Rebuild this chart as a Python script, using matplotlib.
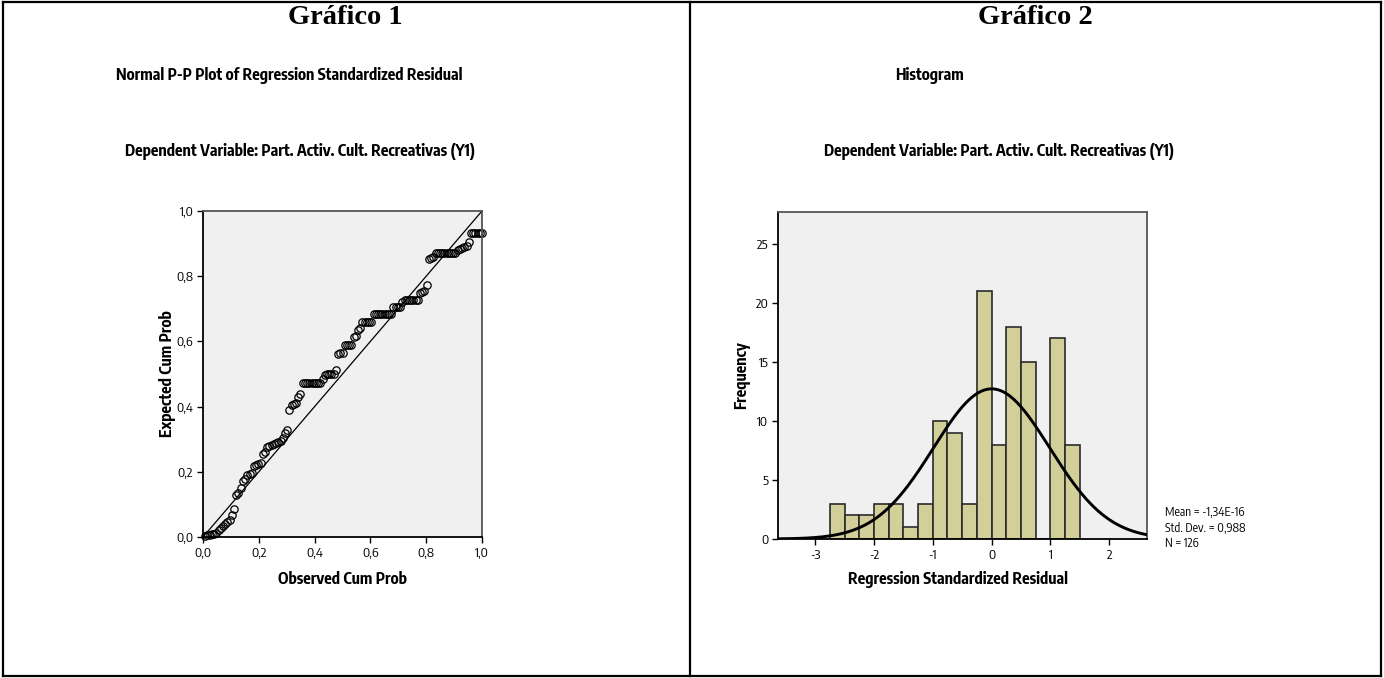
import numpy as np
import matplotlib
matplotlib.use("Agg")
import matplotlib.pyplot as plt
from matplotlib import font_manager
from matplotlib.font_manager import FontProperties
from matplotlib.lines import Line2D
from matplotlib.textpath import TextPath
from matplotlib.ticker import FuncFormatter

W, H = 1384, 678
DPI = 100

# P-P plot: expected cumulative probability of each sorted residual (rank order)
expected_cum_prob = [
    0.003, 0.005, 0.006, 0.008, 0.010, 0.013,
    0.020, 0.027, 0.034, 0.040, 0.045, 0.052, 0.068, 0.085,
    0.128, 0.136, 0.150, 0.172, 0.178, 0.190, 0.192, 0.196, 0.218, 0.222,
    0.224, 0.226, 0.255, 0.262, 0.275, 0.278, 0.281, 0.285, 0.288, 0.290,
    0.296, 0.305, 0.318, 0.328,
    0.389, 0.404, 0.407, 0.410, 0.428, 0.440,
    0.471, 0.471, 0.471, 0.471, 0.471, 0.471, 0.471, 0.471, 0.471,
    0.484, 0.497, 0.500, 0.500, 0.500, 0.500, 0.512,
    0.561, 0.563, 0.565, 0.588, 0.589, 0.589, 0.590, 0.613, 0.616, 0.636,
    0.640, 0.658, 0.660, 0.660, 0.660, 0.660,
    0.683, 0.683, 0.683, 0.683, 0.683, 0.683, 0.683, 0.683, 0.683,
    0.705, 0.706, 0.706, 0.707, 0.720,
    0.728, 0.728, 0.728, 0.728, 0.728, 0.728, 0.728,
    0.750, 0.752, 0.755, 0.773,
    0.852, 0.857, 0.860,
    0.870, 0.870, 0.870, 0.870, 0.870, 0.870, 0.870, 0.870, 0.870, 0.870,
    0.880, 0.884, 0.886, 0.890, 0.894, 0.906,
    0.931, 0.931, 0.931, 0.931, 0.931, 0.931,
]
n_obs = 126

# histogram of the standardized residuals
bin_edges = [-2.75, -2.5, -2.25, -2.0, -1.75, -1.5, -1.25, -1.0, -0.75,
             -0.5, -0.25, 0.0, 0.25, 0.5, 0.75, 1.0, 1.25, 1.5]
bin_counts = [3, 2, 2, 3, 3, 1, 3, 10, 9, 3, 21, 8, 18, 15, 0, 17, 8]
resid_mean = -1.34e-16
resid_sd = 0.988

DEP_TITLE = "Dependent Variable: Part. Activ. Cult. Recreativas (Y1)"
SERIF = ["Liberation Serif", "DejaVu Serif"]
PANEL_BG = "#f0f0f0"
BAR_FC = "#d3cf98"
plt.rcParams["axes.unicode_minus"] = False


def _weight(f):
    w = f.weight
    if isinstance(w, str):
        return 700 if "bold" in w else 400
    return int(w)


def _path_size(text, fp):
    ext = TextPath((0, 0), text, prop=fp).get_extents()
    return ext.width, ext.height


def pick_faces():
    """Pick a bold sans face whose width/cap-height is close to a narrow grotesque."""
    best = None
    for f in font_manager.fontManager.ttflist:
        n = f.name
        if f.style != "normal" or _weight(f) != 700:
            continue
        if any(k in n for k in ("Mono", "Serif", "CJK", "Math", "Emoji", "Display")):
            continue
        if not any(k in n for k in ("Sans", "Roboto", "Lato", "Inter", "Narrow", "Condensed")):
            continue
        fp = FontProperties(fname=f.fname, size=10)
        try:
            w, _ = _path_size(DEP_TITLE, fp)
            _, cap = _path_size("H", fp)
        except Exception:
            continue
        d = abs(w / cap - 30)
        if best is None or d < best[0]:
            best = (d, f)
    bold = best[1]
    regular = bold
    for f in font_manager.fontManager.ttflist:
        if (f.name == bold.name and f.stretch == bold.stretch
                and f.style == "normal" and _weight(f) == 400):
            regular = f
            break
    return bold.fname, regular.fname


BOLD_PATH, REG_PATH = pick_faces()


def fit_size(text, path, width_px):
    w, _ = _path_size(text, FontProperties(fname=path, size=10))
    return 10 * width_px / (w * DPI / 72)


LABEL_PT = fit_size(DEP_TITLE, BOLD_PATH, 350)
SMALL_PT = fit_size("Mean = -1,34E-16", REG_PATH, 78)


def bold(size=None):
    return FontProperties(fname=BOLD_PATH, size=size or LABEL_PT)


def small(scale=1.0):
    return FontProperties(fname=REG_PATH, size=SMALL_PT * scale)


def fx(px):
    return px / W


def fy(py):
    return 1 - py / H


def comma(v, pos):
    return f"{v:.1f}".replace(".", ",")


def style_axes(ax):
    ax.set_facecolor(PANEL_BG)
    for side in ("left", "bottom"):
        ax.spines[side].set_color("black")
        ax.spines[side].set_linewidth(1.3)
    for side in ("top", "right"):
        ax.spines[side].set_color("#555555")
        ax.spines[side].set_linewidth(1.3)
    ax.tick_params(direction="out", length=4, width=1, pad=3, colors="black")
    for lab in ax.get_xticklabels() + ax.get_yticklabels():
        lab.set_fontproperties(small(1.1))


fig = plt.figure(figsize=(W / DPI, H / DPI), dpi=DPI)
fig.patch.set_facecolor("white")

# table frame around the two charts
frame = dict(color="black", lw=1.6, transform=fig.transFigure)
fig.add_artist(Line2D([fx(3), fx(1381)], [fy(2), fy(2)], **frame))
fig.add_artist(Line2D([fx(3), fx(1381)], [fy(676), fy(676)], **frame))
fig.add_artist(Line2D([fx(3), fx(3)], [fy(2), fy(676)], **frame))
fig.add_artist(Line2D([fx(1381), fx(1381)], [fy(2), fy(676)], **frame))
fig.add_artist(Line2D([fx(690), fx(690)], [fy(2), fy(676)], **frame))

for cx, label in ((345, "Gráfico 1"), (1035, "Gráfico 2")):
    fig.text(fx(cx), fy(17), label, ha="center", va="center",
             fontsize=20.5, fontweight="bold", family=SERIF)

# ---- Normal P-P plot ----
ax1 = fig.add_axes([fx(203), fy(537), (482 - 203) / W, (537 - 211) / H])
observed = np.arange(1, n_obs + 1) / n_obs
ax1.plot([0, 1], [0, 1], color="black", lw=0.9)
ax1.plot(observed, expected_cum_prob, linestyle="none", marker="o",
         markersize=5.3, markerfacecolor="none", markeredgecolor="black",
         markeredgewidth=0.9, clip_on=False)
ax1.set_xlim(0, 1)
ax1.set_ylim(0, 1)
ax1.set_xticks(np.arange(0, 1.01, 0.2))
ax1.set_yticks(np.arange(0, 1.01, 0.2))
ax1.xaxis.set_major_formatter(FuncFormatter(comma))
ax1.yaxis.set_major_formatter(FuncFormatter(comma))
style_axes(ax1)

fig.text(fx(289), fy(76), "Normal P-P Plot of Regression Standardized Residual",
         ha="center", va="center", fontproperties=bold())
fig.text(fx(300), fy(152), DEP_TITLE, ha="center", va="center",
         fontproperties=bold())
fig.text(fx(167), fy(374), "Expected Cum Prob", rotation=90, ha="center",
         va="center", fontproperties=bold())
fig.text(fx(342), fy(579), "Observed Cum Prob", ha="center", va="center",
         fontproperties=bold())

# ---- Histogram ----
ax2 = fig.add_axes([fx(778), fy(539), (1147 - 778) / W, (539 - 212) / H])
edges = np.array(bin_edges)
ax2.bar(edges[:-1], bin_counts, width=np.diff(edges), align="edge",
        color=BAR_FC, edgecolor="#2b2b2b", linewidth=1.2, zorder=2)
xlim = (-3.63, 2.64)
grid = np.linspace(xlim[0], xlim[1], 400)
bw = edges[1] - edges[0]
curve = n_obs * bw * np.exp(-0.5 * ((grid - resid_mean) / resid_sd) ** 2) / (resid_sd * np.sqrt(2 * np.pi))
ax2.plot(grid, curve, color="black", lw=2.1, zorder=3)
ax2.set_xlim(*xlim)
ax2.set_ylim(0, 27.7)
ax2.set_xticks([-3, -2, -1, 0, 1, 2])
ax2.set_yticks([0, 5, 10, 15, 20, 25])
style_axes(ax2)

fig.text(fx(930), fy(76), "Histogram", ha="center", va="center",
         fontproperties=bold())
fig.text(fx(999), fy(152), DEP_TITLE, ha="center", va="center",
         fontproperties=bold())
fig.text(fx(742), fy(375), "Frequency", rotation=90, ha="center", va="center",
         fontproperties=bold())
fig.text(fx(958), fy(580), "Regression Standardized Residual", ha="center",
         va="center", fontproperties=bold())
mean_txt = f"{resid_mean:.2E}".replace(".", ",")
sd_txt = f"{resid_sd:.3f}".replace(".", ",")
stats = f"Mean = {mean_txt}\nStd. Dev. = {sd_txt}\nN = {n_obs}"
fig.text(fx(1165), fy(528), stats, ha="left", va="center",
         fontproperties=small(), linespacing=1.25)

fig.savefig("out.png", dpi=DPI)
